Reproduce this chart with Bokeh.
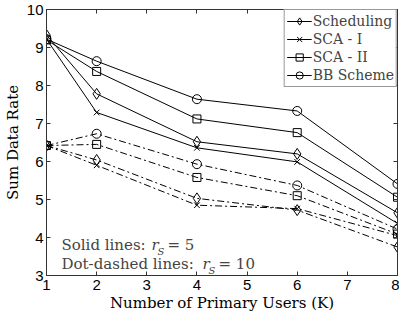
from bokeh.plotting import figure
from bokeh.models import LinearAxis, Legend, LegendItem, Label, FixedTicker, Range1d
from bokeh.embed import file_html
from bokeh.resources import INLINE

K = [1, 2, 4, 6, 8]
series_names = ["Scheduling", "SCA - I", "SCA - II", "BB Scheme"]
markers = ["diamond", "x", "square", "circle"]
marker_sizes = [11, 8, 8, 9]

solid_sched = [9.33, 7.78, 6.52, 6.20, 4.65]
solid_sca1 = [9.22, 7.29, 6.36, 5.99, 4.37]
solid_sca2 = [9.20, 8.37, 7.12, 6.76, 5.06]
solid_bb = [9.22, 8.64, 7.64, 7.33, 5.41]

dash_sched = [6.42, 6.04, 5.03, 4.72, 3.75]
dash_sca1 = [6.42, 5.90, 4.85, 4.76, 4.05]
dash_sca2 = [6.42, 6.45, 5.58, 5.10, 4.09]
dash_bb = [6.42, 6.73, 5.93, 5.37, 4.22]

x_ticks = [1, 2, 3, 4, 5, 6, 7, 8]
y_ticks = [3, 4, 5, 6, 7, 8, 9, 10]

solid = [solid_sched, solid_sca1, solid_sca2, solid_bb]
dashed = [dash_sched, dash_sca1, dash_sca2, dash_bb]

p = figure(width=399, height=314, output_backend="svg", toolbar_location=None,
           x_range=Range1d(1, 8), y_range=Range1d(3, 10),
           min_border_left=37, min_border_right=2, min_border_top=9, min_border_bottom=37)
p.background_fill_color = "white"
p.border_fill_color = "white"
p.outline_line_color = "#333333"
p.grid.visible = False

tick_font = "Liberation Sans"
serif = "DejaVu Serif"
for ax in p.xaxis + p.yaxis:
    ax.major_tick_in = 4
    ax.major_tick_out = 0
    ax.minor_tick_in = 0
    ax.minor_tick_out = 0
    ax.axis_line_color = "#333333"
    ax.major_tick_line_color = "#333333"
    ax.major_label_text_font = tick_font
    ax.major_label_text_font_size = "15px"
    ax.major_label_text_color = "black"
    ax.axis_label_text_font = serif
    ax.axis_label_text_font_style = "normal"
    ax.axis_label_text_font_size = "15px"
    ax.axis_label_text_color = "black"
p.xaxis.ticker = FixedTicker(ticks=x_ticks)
p.yaxis.ticker = FixedTicker(ticks=y_ticks)
p.xaxis.axis_label = "Number of Primary Users (K)"
p.yaxis.axis_label = "Sum Data Rate"
p.xaxis.major_label_standoff = 4
p.yaxis.major_label_standoff = 3
p.xaxis.axis_label_standoff = 1
p.yaxis.axis_label_standoff = 2

blank_x = {t: "" for t in x_ticks}
blank_y = {t: "" for t in y_ticks}
top = LinearAxis(ticker=FixedTicker(ticks=x_ticks), major_tick_in=4, major_tick_out=0,
                 minor_tick_in=0, minor_tick_out=0, major_label_overrides=blank_x,
                 major_label_standoff=0, axis_line_color="#333333", major_tick_line_color="#333333")
right = LinearAxis(ticker=FixedTicker(ticks=y_ticks), major_tick_in=4, major_tick_out=0,
                   minor_tick_in=0, minor_tick_out=0, major_label_overrides=blank_y,
                   major_label_standoff=0, axis_line_color="#333333", major_tick_line_color="#333333")
p.add_layout(top, "above")
p.add_layout(right, "right")

items = []
for name, mk, ms, ys, yd in zip(series_names, markers, marker_sizes, solid, dashed):
    l1 = p.line(K, ys, line_color="black", line_width=1)
    s1 = p.scatter(K, ys, marker=mk, size=ms, line_color="black", fill_color=None, line_width=1)
    p.line(K, yd, line_color="black", line_width=1, line_dash="7 3 2 3")
    p.scatter(K, yd, marker=mk, size=ms, line_color="black", fill_color=None, line_width=1)
    items.append(LegendItem(label=name, renderers=[l1, s1]))

legend = Legend(items=items, location="top_right", margin=0, padding=2, spacing=0,
                glyph_width=25, glyph_height=18, label_height=18, label_standoff=1,
                label_text_font=serif, label_text_font_size="14px",
                border_line_color="#333333", border_line_width=1,
                background_fill_color="white", background_fill_alpha=1)
p.add_layout(legend)

lab_size = "15px"
sub_size = "10px"
p.add_layout(Label(x=15, y=22, x_units="screen", y_units="screen", text="Solid lines:",
                   text_font=serif, text_font_size=lab_size))
p.add_layout(Label(x=15, y=3, x_units="screen", y_units="screen", text="Dot-dashed lines:",
                   text_font=serif, text_font_size=lab_size))
p.add_layout(Label(x=105, y=22, x_units="screen", y_units="screen", text="r",
                   text_font=serif, text_font_style="italic", text_font_size=lab_size))
p.add_layout(Label(x=111, y=19, x_units="screen", y_units="screen", text="S",
                   text_font=serif, text_font_style="italic", text_font_size=sub_size))
p.add_layout(Label(x=121, y=22, x_units="screen", y_units="screen", text="= 5",
                   text_font=serif, text_font_size=lab_size))
p.add_layout(Label(x=156, y=3, x_units="screen", y_units="screen", text="r",
                   text_font=serif, text_font_style="italic", text_font_size=lab_size))
p.add_layout(Label(x=162, y=0, x_units="screen", y_units="screen", text="S",
                   text_font=serif, text_font_style="italic", text_font_size=sub_size))
p.add_layout(Label(x=172, y=3, x_units="screen", y_units="screen", text="= 10",
                   text_font=serif, text_font_size=lab_size))

open("out.html", "w").write(file_html(p, INLINE))
